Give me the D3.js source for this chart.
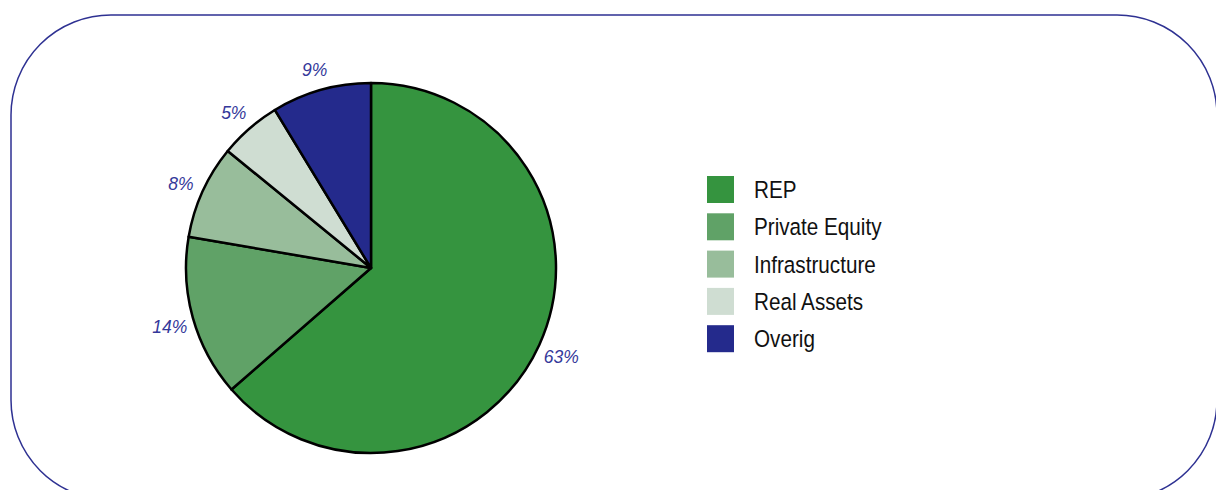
<!DOCTYPE html>
<html><head><meta charset="utf-8">
<script src="https://cdn.jsdelivr.net/npm/d3@7"></script>
<style>
html,body{margin:0;padding:0;background:#fff;}
svg{display:block;}
</style>
</head><body>
<svg id="chart" width="1216" height="490"></svg>
<script>
const categories = ["REP", "Private Equity", "Infrastructure", "Real Assets", "Overig"];
const values = [63.6, 14.1, 8.2, 5.4, 8.7];
const valueLabels = ["63%", "14%", "8%", "5%", "9%"];
const colors = ["#35943f", "#60a267", "#98bd9b", "#cfddd2", "#242a8c"];

const svg = d3.select("#chart");

// rounded frame
svg.append("rect")
  .attr("x", 11).attr("y", 15)
  .attr("width", 1206).attr("height", 485)
  .attr("rx", 100).attr("ry", 100)
  .attr("fill", "none")
  .attr("stroke", "#2e3192")
  .attr("stroke-width", 1.5);

const cx = 371, cy = 268, R = 185;
const data = categories.map((c, i) => ({cat: c, value: values[i], label: valueLabels[i], color: colors[i]}));
const pie = d3.pie().sort(null).value(d => d.value);
const arcs = pie(data);
const arc = d3.arc().innerRadius(0).outerRadius(R);
const labelArc = d3.arc().innerRadius(209).outerRadius(209);

const g = svg.append("g").attr("transform", `translate(${cx},${cy})`);
g.selectAll("path.slice").data(arcs).join("path")
  .attr("class", "slice")
  .attr("d", arc)
  .attr("fill", d => d.data.color)
  .attr("stroke", "#000")
  .attr("stroke-width", 2.5)
  .attr("stroke-linejoin", "round");

g.selectAll("text.lbl").data(arcs).join("text")
  .attr("class", "lbl")
  .attr("transform", d => `translate(${labelArc.centroid(d)})`)
  .attr("text-anchor", "middle")
  .attr("dy", "0.5em")
  .attr("font-family", "'Liberation Sans', Arial, sans-serif")
  .attr("font-style", "italic")
  .attr("font-size", 17.5)
  .attr("fill", "#34389a")
  .text(d => d.data.label);

// legend
const legend = svg.append("g").attr("transform", "translate(707,176)");
const item = legend.selectAll("g").data(data).join("g")
  .attr("transform", (d, i) => `translate(0,${i * 37.3})`);
item.append("rect")
  .attr("width", 27).attr("height", 27)
  .attr("fill", d => d.color);
item.append("g")
  .attr("transform", "translate(47,13.5) scale(0.88,1)")
  .append("text")
  .attr("dy", "0.36em")
  .attr("font-family", "'Liberation Sans', Arial, sans-serif")
  .attr("font-size", 23.5)
  .attr("fill", "#111")
  .text(d => d.cat);
</script>
</body></html>
